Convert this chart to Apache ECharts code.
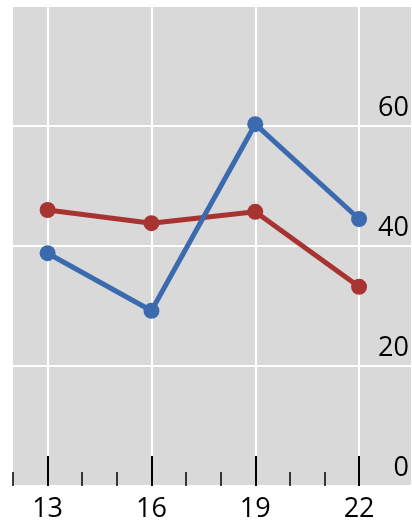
<!DOCTYPE html>
<html>
<head>
<meta charset="utf-8">
<script src="https://cdn.jsdelivr.net/npm/echarts@6/dist/echarts.min.js"></script>
<style>
  html, body { margin: 0; padding: 0; background: #fff; }
  #chart { width: 412px; height: 526px; }
</style>
</head>
<body>
<div id="chart"></div>
<script>
// Chart data
const xValues = [13, 16, 19, 22];
const blueValues = [38.8, 29.2, 60.3, 44.5];
const redValues = [46, 43.8, 45.7, 33.2];

// Axis ticks and labels
const majorTicks = [13, 16, 19, 22];
const minorTicks = [12, 14, 15, 17, 18, 20, 21];
const yTicks = [0, 20, 40, 60];

const chart = echarts.init(document.getElementById('chart'));

const toPairs = values => xValues.map((x, i) => [x, values[i]]);

const labelFont = { fontFamily: 'Open Sans', fontSize: 27, color: '#000' };

chart.setOption({
    animation: false,
    backgroundColor: '#fff',
    grid: {
        left: 13,
        right: 0,
        top: 6,
        bottom: 40,
        show: true,
        backgroundColor: '#d9d9d9',
        borderWidth: 0
    },
    xAxis: [
        {
            type: 'value',
            min: 12,
            max: 23.5,
            position: 'bottom',
            axisLine: { show: false },
            axisTick: {
                show: true,
                inside: true,
                length: 30,
                customValues: majorTicks,
                lineStyle: { color: '#000', width: 2 }
            },
            axisLabel: Object.assign({ customValues: majorTicks, margin: 10 }, labelFont),
            splitLine: { show: true, lineStyle: { color: '#fff', width: 2 } }
        },
        {
            type: 'value',
            min: 12,
            max: 23.5,
            position: 'bottom',
            axisLine: { show: false },
            axisTick: {
                show: true,
                inside: true,
                length: 14,
                customValues: minorTicks,
                lineStyle: { color: '#000', width: 1.5 }
            },
            axisLabel: { show: false },
            splitLine: { show: false }
        }
    ],
    yAxis: {
        type: 'value',
        min: 0,
        max: 80,
        interval: 20,
        position: 'right',
        axisLine: { show: false },
        axisTick: { show: false },
        axisLabel: Object.assign({
            inside: true,
            margin: 2,
            customValues: yTicks,
            verticalAlign: 'bottom',
            lineHeight: 27,
            padding: [0, 0, 4, 0]
        }, labelFont),
        splitLine: { show: true, lineStyle: { color: '#fff', width: 2 } }
    },
    series: [
        {
            name: 'red',
            type: 'line',
            data: toPairs(redValues),
            symbol: 'circle',
            symbolSize: 16,
            lineStyle: { color: '#a83431', width: 5 },
            itemStyle: { color: '#a83431' }
        },
        {
            name: 'blue',
            type: 'line',
            data: toPairs(blueValues),
            symbol: 'circle',
            symbolSize: 16,
            lineStyle: { color: '#3b6aaf', width: 5 },
            itemStyle: { color: '#3b6aaf' }
        }
    ]
});
</script>
</body>
</html>
